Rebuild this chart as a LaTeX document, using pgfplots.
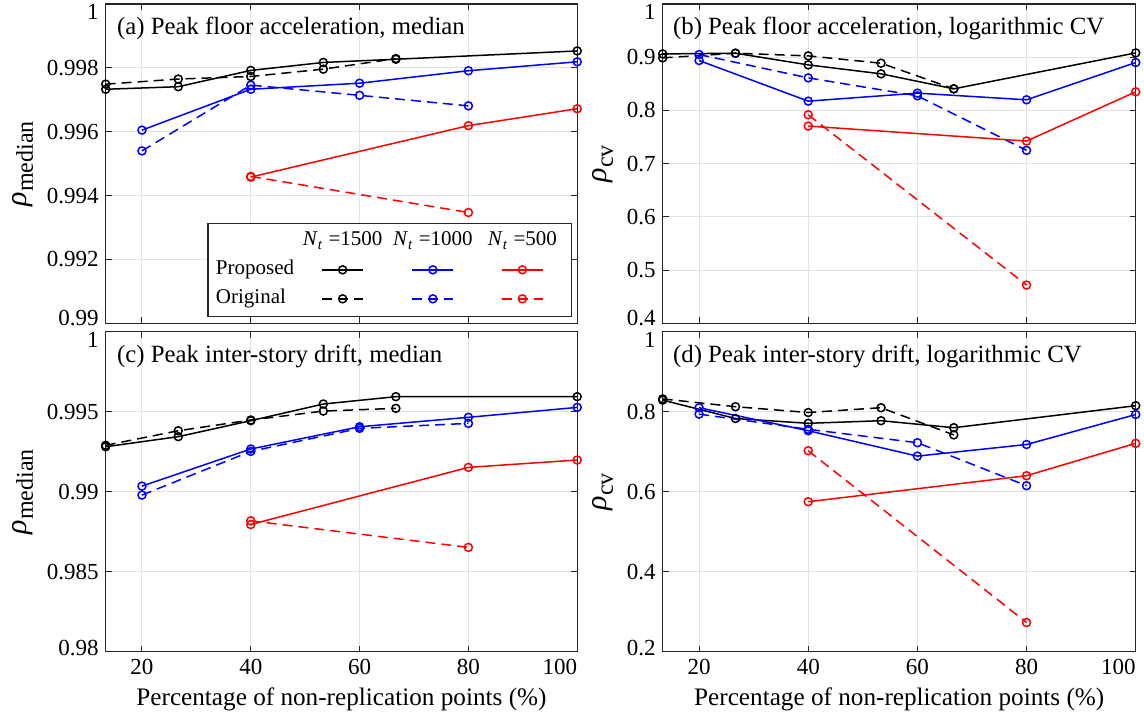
\documentclass[border=0pt]{standalone}
\usepackage{fontspec}
\setmainfont{Liberation Serif}
\usepackage{pgfplots}
\pgfplotsset{compat=1.18}
\definecolor{axgray}{RGB}{38,38,38}
\definecolor{gridgray}{RGB}{226,226,226}
\newcommand{\tickfont}{\fontsize{11.5}{13}\selectfont}
\newcommand{\titfont}{\fontsize{12.4}{14}\selectfont}
\newcommand{\labfont}{\fontsize{12.6}{14}\selectfont}
\newcommand{\legfont}{\fontsize{10.5}{12}\selectfont}
\newcommand{\rholab}[1]{{\fontsize{15}{16}\selectfont\textit{ρ}}\raisebox{-0.55ex}{\fontsize{12}{13}\selectfont #1}}
\newcommand{\tl}[1]{\raisebox{-0.68em}[0pt][0pt]{#1}}
\newcommand{\bl}[2]{\raisebox{#1}[0pt][0pt]{#2}}
\pgfplotsset{
  panel/.style={
    scale only axis, anchor=north west,
    xmin=13.333, xmax=100, xtick={20,40,60,80,100},
    grid=major, major grid style={gridgray, line width=0.5pt},
    axis line style={axgray, line width=0.65pt},
    every tick/.style={axgray, line width=0.5pt},
    major tick length=3pt, tick align=inside,
    xtick pos=both, ytick pos=both,
    tick label style={font=\tickfont},
    label style={font=\labfont},
    scaled ticks=false, clip=false,
  },
  pp/.style={line width=0.75pt, mark=o, mark size=2pt, mark options={solid}},
  oo/.style={pp, dash pattern=on 5pt off 3pt},
  hdr/.style={legend image code/.code={\node[anchor=center, inner xsep=0pt, minimum width=39pt, font=\legfont] at (0.36cm,0pt) {#1};}},
  smp/.style={legend image code/.code={\path[draw=none, fill=none] (0.36cm-19.5pt,0pt) -- (0.36cm+19.5pt,0pt);\draw[mark repeat=2, mark phase=2, ##1] plot coordinates {(0cm,0cm) (0.36cm,0cm) (0.72cm,0cm)};}},
}
\newcommand{\Nt}{\textit{N}\textsubscript{\textit{t}}}
\begin{document}
\begin{tikzpicture}
\useasboundingbox (0,0) rectangle (572pt,-359.5pt);
% (a)
\begin{axis}[panel, at={(52.85pt,-2pt)}, width=235.75pt, height=159.65pt,
  ymin=0.99, ymax=1, ytick={0.99,0.992,0.994,0.996,0.998,1},
  yticklabels={\bl{-0.85pt}{0.99},0.992,0.994,0.996,0.998,\tl{1}}, xticklabels={},
  ylabel={\rholab{median}},
  legend columns=4,
  legend style={at={(0.989,0.02)}, anchor=south east, draw=axgray, line width=0.6pt,
    font=\legfont, inner xsep=4pt, inner ysep=2pt, row sep=1pt,
    nodes={text height=7.5pt, text depth=2.5pt, inner ysep=1.75pt, inner xsep=0pt},
    /tikz/every odd column/.style={column sep=0pt},
    /tikz/every even column/.style={column sep=4.4pt}},
  legend cell align=left]
\addplot[black, pp, forget plot] coordinates {(13.333,0.99733)(26.667,0.99741)(40,0.99792)(53.333,0.99817)(66.667,0.99827)(100,0.99853)};
\addplot[black, oo, forget plot] coordinates {(13.333,0.99749)(26.667,0.99765)(40,0.99773)(53.333,0.99796)(66.667,0.99829)};
\addplot[blue, pp, forget plot] coordinates {(20,0.99605)(40,0.99733)(60,0.99752)(80,0.99791)(100,0.99819)};
\addplot[blue, oo, forget plot] coordinates {(20,0.99540)(40,0.99746)(60,0.99714)(80,0.99681)};
\addplot[red, pp, forget plot] coordinates {(40,0.99458)(80,0.99619)(100,0.99672)};
\addplot[red, oo, forget plot] coordinates {(40,0.99460)(80,0.99347)};
\addlegendimage{empty legend}\addlegendentry{\mbox{}}
\addlegendimage{hdr={\Nt{} =1500}}\addlegendentry{\mbox{}}
\addlegendimage{hdr={\Nt{} =1000}}\addlegendentry{\mbox{}}
\addlegendimage{hdr={\Nt{} =500}}\addlegendentry{\mbox{}}
\addlegendimage{empty legend}\addlegendentry{Proposed}
\addlegendimage{black, pp, smp}\addlegendentry{\mbox{}}
\addlegendimage{blue, pp, smp}\addlegendentry{\mbox{}}
\addlegendimage{red, pp, smp}\addlegendentry{\mbox{}}
\addlegendimage{empty legend}\addlegendentry{Original}
\addlegendimage{black, oo, smp}\addlegendentry{\mbox{}}
\addlegendimage{blue, oo, smp}\addlegendentry{\mbox{}}
\addlegendimage{red, oo, smp}\addlegendentry{\mbox{}}
\node[anchor=north west, inner sep=0pt, font=\titfont] at (rel axis cs:0,1) [xshift=5.5pt, yshift=-6.5pt] {(a) Peak floor acceleration, median};
\end{axis}
% (b)
\begin{axis}[panel, at={(331.35pt,-2pt)}, width=236.5pt, height=159.65pt,
  ymin=0.4, ymax=1, ytick={0.4,0.5,0.6,0.7,0.8,0.9,1},
  yticklabels={\bl{-0.85pt}{0.4},0.5,0.6,0.7,0.8,0.9,\tl{1}}, xticklabels={},
  ylabel={\rholab{cv}}]
\addplot[black, pp] coordinates {(13.333,0.9062)(26.667,0.9075)(40,0.8856)(53.333,0.8688)(66.667,0.8406)(100,0.9081)};
\addplot[black, oo] coordinates {(13.333,0.8988)(26.667,0.9075)(40,0.9025)(53.333,0.8888)(66.667,0.8406)};
\addplot[blue, pp] coordinates {(20,0.8938)(40,0.8175)(60,0.8325)(80,0.8200)(100,0.8900)};
\addplot[blue, oo] coordinates {(20,0.9050)(40,0.8612)(60,0.8275)(80,0.7250)};
\addplot[red, pp] coordinates {(40,0.7706)(80,0.7425)(100,0.8350)};
\addplot[red, oo] coordinates {(40,0.7919)(80,0.4719)};
\node[anchor=north west, inner sep=0pt, font=\titfont] at (rel axis cs:0,1) [xshift=5pt, yshift=-6.5pt] {(b) Peak floor acceleration, logarithmic CV};
\end{axis}
% (c)
\begin{axis}[panel, at={(52.85pt,-165.85pt)}, width=235.75pt, height=160pt,
  ymin=0.98, ymax=1, ytick={0.98,0.985,0.99,0.995,1},
  yticklabels={\bl{-1.65pt}{0.98},0.985,0.99,0.995,\tl{1}},
  xticklabels={20,40,60,80,\makebox[0pt][r]{100}},
  xlabel={Percentage of non-replication points (\%)},
  ylabel={\rholab{median}}]
\addplot[black, pp] coordinates {(13.333,0.99281)(26.667,0.99344)(40,0.99444)(53.333,0.99548)(66.667,0.99594)(100,0.99594)};
\addplot[black, oo] coordinates {(13.333,0.99290)(26.667,0.99381)(40,0.99448)(53.333,0.99504)(66.667,0.99521)};
\addplot[blue, pp] coordinates {(20,0.99035)(40,0.99267)(60,0.99406)(80,0.99465)(100,0.99527)};
\addplot[blue, oo] coordinates {(20,0.98979)(40,0.99252)(60,0.99396)(80,0.99427)};
\addplot[red, pp] coordinates {(40,0.98795)(80,0.99152)(100,0.99198)};
\addplot[red, oo] coordinates {(40,0.98818)(80,0.98652)};
\node[anchor=north west, inner sep=0pt, font=\titfont] at (rel axis cs:0,1) [xshift=5.5pt, yshift=-6.5pt] {(c) Peak inter-story drift, median};
\end{axis}
% (d)
\begin{axis}[panel, at={(331.35pt,-165.85pt)}, width=236.5pt, height=160pt,
  ymin=0.2, ymax=1, ytick={0.2,0.4,0.6,0.8,1},
  yticklabels={\bl{-1.65pt}{0.2},0.4,0.6,0.8,\tl{1}},
  xticklabels={20,40,60,80,\makebox[0pt][r]{100}},
  xlabel={Percentage of non-replication points (\%)},
  ylabel={\rholab{cv}}]
\addplot[black, pp] coordinates {(13.333,0.829)(26.667,0.783)(40,0.771)(53.333,0.7775)(66.667,0.760)(100,0.815)};
\addplot[black, oo] coordinates {(13.333,0.832)(26.667,0.8125)(40,0.798)(53.333,0.810)(66.667,0.742)};
\addplot[blue, pp] coordinates {(20,0.810)(40,0.7525)(60,0.689)(80,0.718)(100,0.793)};
\addplot[blue, oo] coordinates {(20,0.794)(40,0.756)(60,0.7225)(80,0.615)};
\addplot[red, pp] coordinates {(40,0.575)(80,0.640)(100,0.721)};
\addplot[red, oo] coordinates {(40,0.7025)(80,0.273)};
\node[anchor=north west, inner sep=0pt, font=\titfont] at (rel axis cs:0,1) [xshift=5pt, yshift=-6.5pt] {(d) Peak inter-story drift, logarithmic CV};
\end{axis}
\end{tikzpicture}
\end{document}
